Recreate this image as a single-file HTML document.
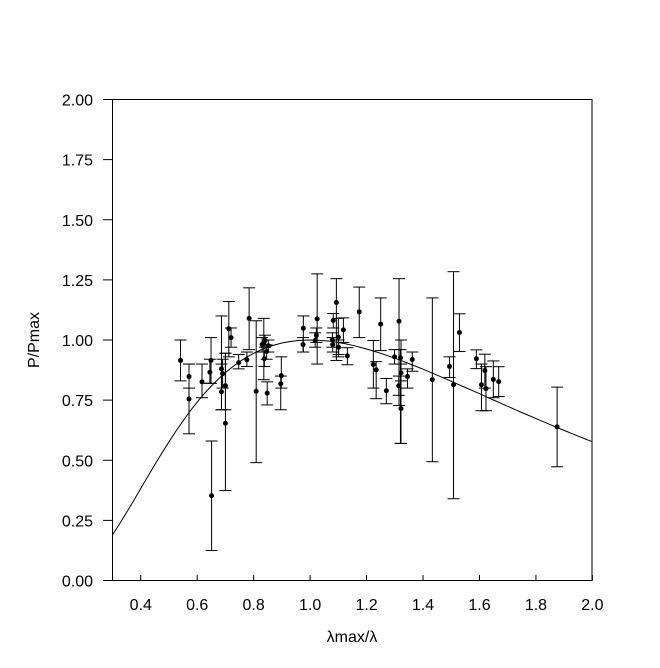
<!DOCTYPE html>
<html><head><meta charset="utf-8"><style>
body{margin:0;background:#fff;}
svg{display:block;font-family:"Liberation Sans",Arial,sans-serif;}
</style></head><body>
<svg id="chart" width="660" height="668" viewBox="0 0 660 668">
<rect x="112.5" y="99.5" width="479.5" height="481" fill="none" stroke="#000" stroke-width="1"/>
<g id="axes"></g>
<path id="fit" fill="none" stroke="#000" stroke-width="1"/>
<g id="pts"></g>
<text x="352" y="642" text-anchor="middle" font-size="16">λmax/λ</text>
<text transform="translate(39,340) rotate(-90)" text-anchor="middle" font-size="16">P/Pmax</text>
</svg>
<script>
const xTicks=[0.4,0.6,0.8,1.0,1.2,1.4,1.6,1.8,2.0];
const yTicks=[0,0.25,0.5,0.75,1.0,1.25,1.5,1.75,2.0];
const xVals=[0.541,0.571,0.571,0.617,0.649,0.645,0.651,0.686,0.69,0.686,0.70,0.70,0.712,0.72,0.747,0.776,0.784,0.809,0.83,0.836,0.84,0.838,0.846,0.852,0.848,0.898,0.896,0.976,0.975,1.025,1.018,1.022,1.093,1.082,1.079,1.08,1.10,1.101,1.118,1.132,1.174,1.224,1.234,1.25,1.27,1.299,1.315,1.314,1.32,1.322,1.322,1.345,1.362,1.433,1.494,1.508,1.529,1.589,1.619,1.607,1.623,1.649,1.668,1.875];
const yVals=[0.915,0.848,0.755,0.826,0.915,0.866,0.353,0.88,0.86,0.785,0.81,0.654,1.047,1.01,0.906,0.918,1.09,0.787,0.981,0.988,0.998,0.922,0.952,0.976,0.779,0.852,0.818,1.049,0.981,1.088,0.998,1.02,1.156,1.081,1.001,0.981,1.012,0.97,1.042,0.934,1.117,0.898,0.876,1.066,0.789,0.930,1.078,0.81,0.926,0.864,0.715,0.848,0.919,0.835,0.89,0.814,1.031,0.922,0.873,0.814,0.798,0.836,0.827,0.639];
const yHi=[1.00,0.90,0.90,0.90,1.01,0.92,0.58,1.10,0.92,0.90,0.945,0.945,1.16,1.05,0.94,0.95,1.217,1.08,1.01,1.09,1.02,0.95,0.98,1.00,0.826,0.93,0.85,1.10,1.01,1.275,1.03,1.05,1.255,1.11,1.03,1.01,1.09,1.00,1.092,0.968,1.22,0.998,0.91,1.175,0.84,0.96,1.255,0.85,0.96,0.90,1.0,0.88,0.95,1.175,0.93,1.284,1.109,0.959,0.941,0.90,0.889,0.913,0.889,0.804];
const yLo=[0.83,0.80,0.61,0.76,0.82,0.82,0.125,0.71,0.80,0.71,0.71,0.374,0.93,0.97,0.88,0.89,0.96,0.49,0.95,0.835,0.97,0.89,0.92,0.95,0.73,0.80,0.71,0.95,0.95,0.90,0.97,0.99,0.915,1.05,0.97,0.95,0.93,0.94,0.99,0.897,1.01,0.80,0.756,0.956,0.735,0.90,0.728,0.77,0.57,0.83,0.57,0.80,0.87,0.494,0.844,0.34,0.952,0.881,0.80,0.706,0.706,0.76,0.765,0.473];
const X=v=>112.5+(v-0.3)*282.3, Y=v=>580.5-v*240.5;
const NS="http://www.w3.org/2000/svg";
const ax=document.getElementById('axes');
function mk(tag,attrs,parent){const e=document.createElementNS(NS,tag);for(const k in attrs)e.setAttribute(k,attrs[k]);parent.appendChild(e);return e;}
xTicks.forEach(t=>{
  const l=mk('line',{x1:X(t),x2:X(t),y1:580.5,y2:575,stroke:'#000'},ax);
  
  
  const tx=mk('text',{x:X(t),y:610,'text-anchor':'middle','font-size':'16'},ax);
  
  
  tx.textContent=t.toFixed(1);
});
yTicks.forEach(t=>{
  const l=mk('line',{x1:103,x2:112.5,y1:Y(t),y2:Y(t),stroke:'#000'},ax);
  
  
  const tx=mk('text',{x:93,y:Y(t)+6,'text-anchor':'end','font-size':'16'},ax);
  
  
  tx.textContent=t.toFixed(2);
});
let d='';
for(let i=0;i<=68;i++){const x=0.3+i*0.025;const y=Math.exp(-1.145*Math.pow(Math.log(x),2));d+=(i?'L':'M')+X(x).toFixed(1)+','+Y(y).toFixed(1);}
document.getElementById('fit').setAttribute('d',d);
const pg=document.getElementById('pts');
xVals.forEach((x,i)=>{
  const g=mk('g',{},pg);
  
  
  const cx=X(x);
  mk('line',{x1:cx,x2:cx,y1:Y(yHi[i]),y2:Y(yLo[i]),stroke:'#000'},g);
  mk('line',{x1:cx-6,x2:cx+6,y1:Y(yHi[i]),y2:Y(yHi[i]),stroke:'#000'},g);
  mk('line',{x1:cx-6,x2:cx+6,y1:Y(yLo[i]),y2:Y(yLo[i]),stroke:'#000'},g);
  mk('circle',{cx:cx,cy:Y(yVals[i]),r:2.5,fill:'#000'},g);
});
</script>
</body></html>
